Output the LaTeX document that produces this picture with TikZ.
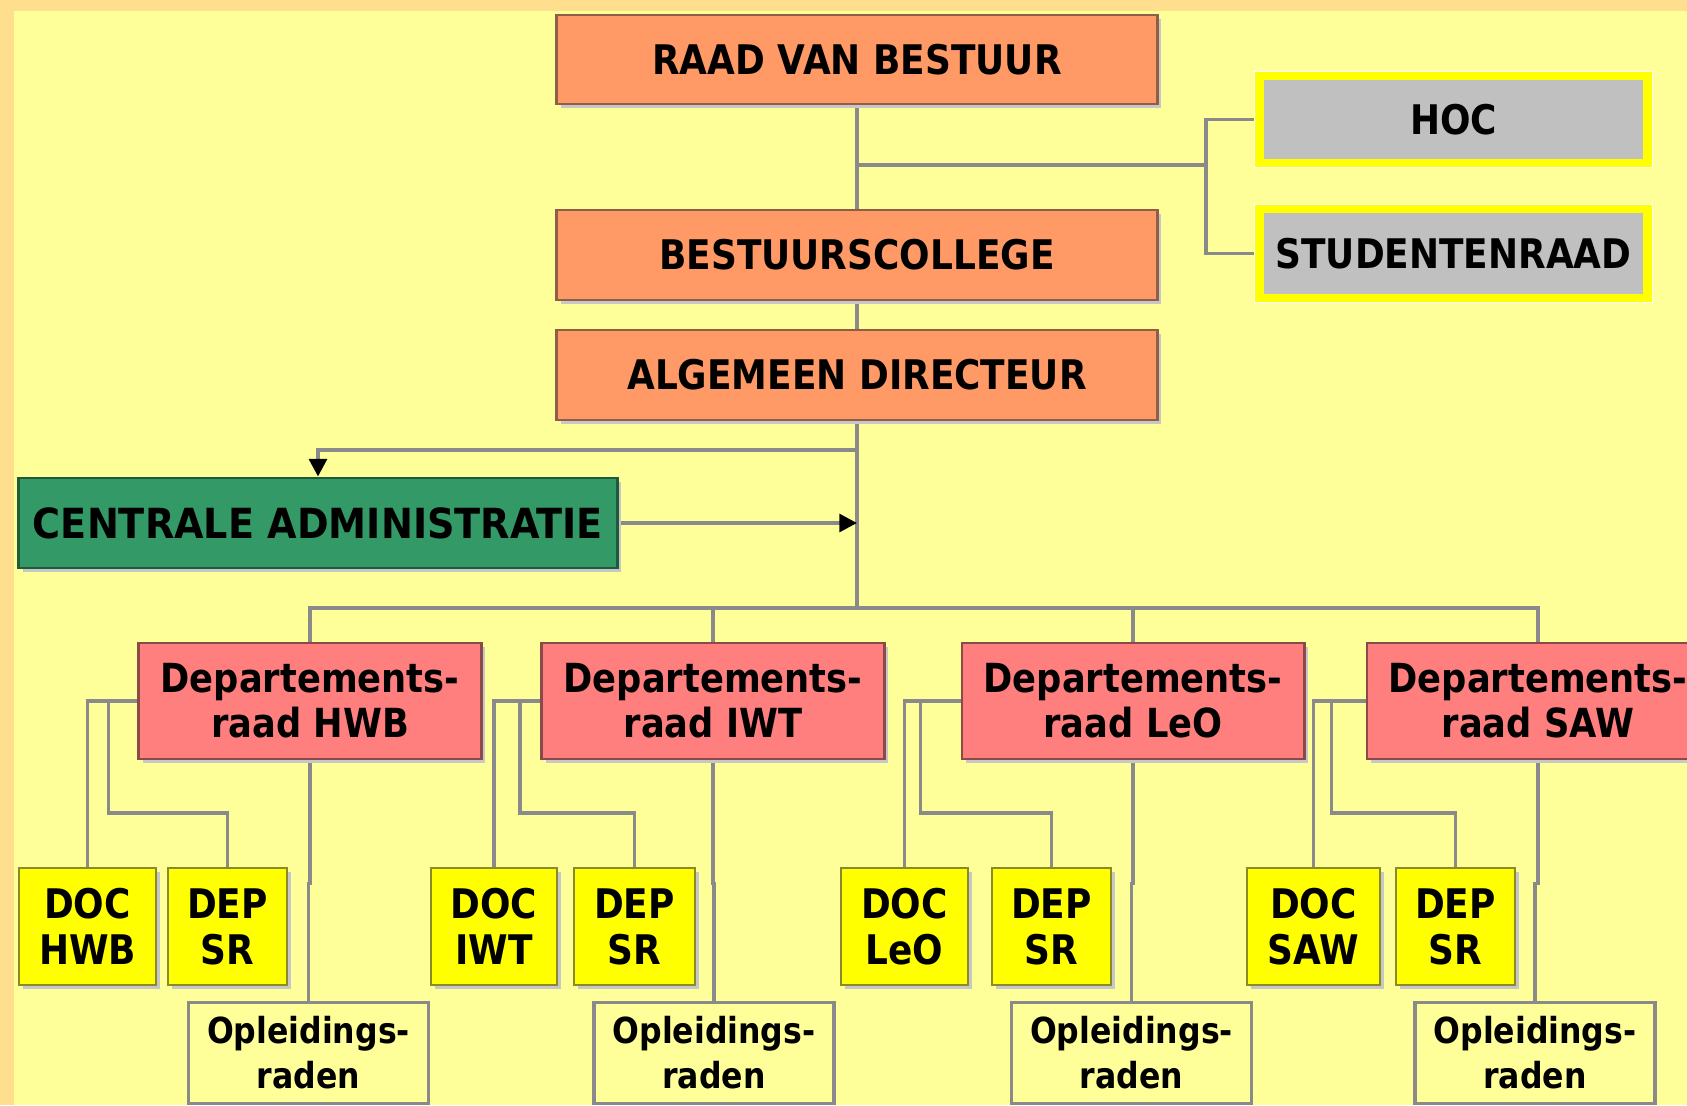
\documentclass[tikz,border=0pt]{standalone}
\usepackage{fontspec}
\newfontfamily\tf[FakeStretch=0.88]{DejaVu Sans}
\newfontfamily\tfw[FakeStretch=0.92]{DejaVu Sans}
\usetikzlibrary{arrows.meta,shadows}
\definecolor{bgout}{HTML}{FFDF8E}
\definecolor{bgin}{HTML}{FFFF99}
\definecolor{orfill}{HTML}{FF9966}
\definecolor{ordraw}{HTML}{8E5E46}
\definecolor{dpfill}{HTML}{FF7F7F}
\definecolor{dpdraw}{HTML}{8A4A4A}
\definecolor{grfill}{HTML}{339966}
\definecolor{grdraw}{HTML}{1F5A3A}
\definecolor{ylfill}{HTML}{FFFF00}
\definecolor{yldraw}{HTML}{8A8A2A}
\definecolor{gyfill}{HTML}{C0C0C0}
\definecolor{lncol}{HTML}{8A8A8A}
\pgfdeclarelayer{back}
\pgfdeclarelayer{lines}
\pgfsetlayers{back,lines,main}
\begin{document}
\begin{tikzpicture}[x=0.01cm,y=-0.01cm,
  box/.style={draw, line width=0.8pt, inner sep=0pt, align=center, text=black,
    font=\tf\bfseries\fontsize{11.6}{13.1}\selectfont,
    drop shadow={shadow xshift=1.1pt, shadow yshift=-1.1pt, fill=black!22, opacity=1}},
  orbox/.style={box, fill=orfill, draw=ordraw, minimum width=6cm, minimum height=0.9cm},
  dpbox/.style={box, fill=dpfill, draw=dpdraw, minimum width=3.42cm, minimum height=1.16cm,
    font=\tf\bfseries\fontsize{11.4}{12.8}\selectfont},
  grbox/.style={box, fill=grfill, draw=grdraw, font=\tfw\bfseries\fontsize{11.8}{13.1}\selectfont},
  ylbox/.style={box, fill=ylfill, draw=yldraw, minimum height=1.17cm},
  gybox/.style={draw=ylfill, line width=0.085cm, fill=gyfill, inner sep=0pt, align=center,
    font=\tf\bfseries\fontsize{11.6}{13.1}\selectfont,
    preaction={draw=white, line width=0.105cm},
    minimum width=3.88cm},
  oplbox/.style={draw=lncol, line width=1pt, fill=bgin, inner sep=0pt, align=center,
    font=\tf\bfseries\fontsize{10.2}{12.8}\selectfont, minimum width=2.4cm, minimum height=1.01cm},
  conn/.style={draw=lncol, line width=1.1pt},
  tip/.style={-{Triangle[length=5pt,width=5pt,color=black]}}
]
\useasboundingbox (0,0) rectangle (1687,1105);
\clip (0,0) rectangle (1687,1105);
\begin{pgfonlayer}{back}
  \fill[bgout] (0,0) rectangle (1687,1105);
  \fill[bgin] (14,11) rectangle (1687,1105);
\end{pgfonlayer}

% top level
\node[orbox, minimum height=0.89cm] (raad) at (857,59.5) {RAAD VAN BESTUUR};
\node[orbox] (bc) at (857,255) {BESTUURSCOLLEGE};
\node[orbox] (ad) at (857,375) {ALGEMEEN DIRECTEUR};
\node[gybox, minimum height=0.87cm] (hoc) at (1453.5,119.5) {HOC};
\node[gybox, minimum height=0.89cm] (stud) at (1453.5,253.5) {STUDENTENRAAD};
\node[grbox, minimum width=5.98cm, minimum height=0.9cm] (ca) at (318,523) {CENTRALE ADMINISTRATIE};

% departments
\node[dpbox] (hwb) at (310,701) {Departements-\\raad HWB};
\node[dpbox] (iwt) at (713,701) {Departements-\\raad IWT};
\node[dpbox] (leo) at (1133,701) {Departements-\\raad LeO};
\node[dpbox] (saw) at (1538,701) {Departements-\\raad SAW};

% DOC / DEP
\node[ylbox, minimum width=1.37cm] (dochwb) at (87.5,926.5) {DOC\\HWB};
\node[ylbox, minimum width=1.19cm] (dephwb) at (227.5,926.5) {DEP\\SR};
\node[ylbox, minimum width=1.26cm] (dociwt) at (494,926.5) {DOC\\IWT};
\node[ylbox, minimum width=1.21cm] (depiwt) at (634.5,926.5) {DEP\\SR};
\node[ylbox, minimum width=1.27cm] (docleo) at (904.5,926.5) {DOC\\LeO};
\node[ylbox, minimum width=1.19cm] (depleo) at (1051.5,926.5) {DEP\\SR};
\node[ylbox, minimum width=1.33cm] (docsaw) at (1313.5,926.5) {DOC\\SAW};
\node[ylbox, minimum width=1.19cm] (depsaw) at (1455.5,926.5) {DEP\\SR};

% Opleidingsraden
\node[oplbox] (oplhwb) at (308.5,1053) {Opleidings-\\raden};
\node[oplbox] (opliwt) at (714,1053) {Opleidings-\\raden};
\node[oplbox] (oplleo) at (1131.5,1053) {Opleidings-\\raden};
\node[oplbox] (oplsaw) at (1535,1053) {Opleidings-\\raden};

\coordinate (j1) at (857,165);
\coordinate (b1) at (1206,165);
\coordinate (j2) at (857,450);
\coordinate (bus) at (857,608);

\begin{pgfonlayer}{lines}
  \draw[conn] (raad.south) -- (bc.north);
  \draw[conn] (j1) -- (b1);
  \draw[conn] (hoc.west) -- (hoc.west -| b1) -- (stud.west -| b1) -- (stud.west);
  \draw[conn] (bc.south) -- (ad.north);
  \draw[conn] (ad.south) -- (bus);
  \draw[conn,tip] (j2) -| (ca.north);
  \draw[conn,tip] (ca.east) -- (ca.east -| ad.south);
  \draw[conn] (hwb.north) |- (bus) -| (saw.north);
  \draw[conn] (iwt.north) -- (iwt.north |- bus);
  \draw[conn] (leo.north) -- (leo.north |- bus);
  % HWB
  \draw[conn] (hwb.west) -| (dochwb.north);
  \draw[conn] (hwb.west -| dochwb.north) ++(21,0) -- ++(0,112) -| (dephwb.north);
  \draw[conn] (hwb.south) -- ++(0,123) -| (oplhwb.north);
  % IWT
  \draw[conn] (iwt.west) -| (dociwt.north);
  \draw[conn] (iwt.west -| dociwt.north) ++(26,0) -- ++(0,112) -| (depiwt.north);
  \draw[conn] (iwt.south) -- ++(0,123) -| (opliwt.north);
  % LeO
  \draw[conn] (leo.west) -| (docleo.north);
  \draw[conn] (leo.west -| docleo.north) ++(16,0) -- ++(0,112) -| (depleo.north);
  \draw[conn] (leo.south) -- ++(0,123) -| (oplleo.north);
  % SAW
  \draw[conn] (saw.west) -| (docsaw.north);
  \draw[conn] (saw.west -| docsaw.north) ++(18,0) -- ++(0,112) -| (depsaw.north);
  \draw[conn] (saw.south) -- ++(0,123) -| (oplsaw.north);
\end{pgfonlayer}
\end{tikzpicture}
\end{document}
